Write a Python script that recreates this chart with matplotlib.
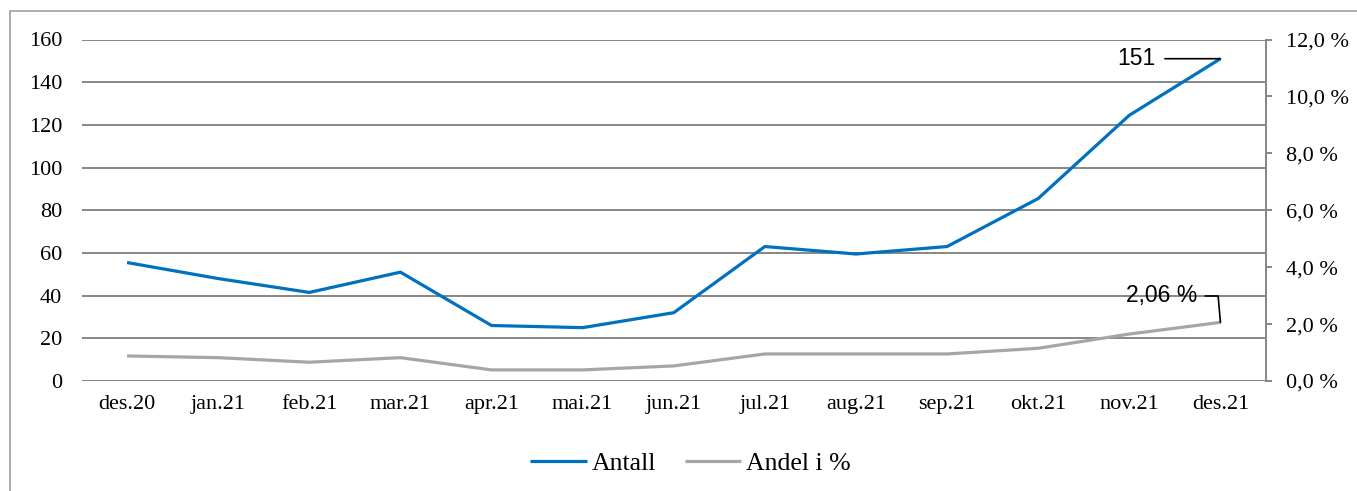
import matplotlib.pyplot as plt
from matplotlib.patches import Rectangle
from matplotlib.ticker import FuncFormatter

# data
months = ["des.20", "jan.21", "feb.21", "mar.21", "apr.21", "mai.21", "jun.21",
          "jul.21", "aug.21", "sep.21", "okt.21", "nov.21", "des.21"]
antall = [55.5, 48, 41.5, 51, 26, 25, 32, 63, 59.5, 63, 85.5, 124.5, 151]
andel = [0.88, 0.82, 0.66, 0.82, 0.39, 0.39, 0.53, 0.95, 0.95, 0.95, 1.15, 1.65, 2.06]

BLUE = "#0070C0"
GRAY = "#A6A6A6"
GRID = "#868686"
SERIF = "Liberation Serif"

W, H = 1357, 491
fig = plt.figure(figsize=(W / 100, H / 100), dpi=100)

# outer chart border (left/top visible, right/bottom run off the image)
fig.patches.append(Rectangle((10 / W, -1), 2, 2 - 11 / H, transform=fig.transFigure,
                             fill=False, edgecolor="#A0A0A0", linewidth=1.2))

left, right, top, bottom = 81.5, 1266, 39.5, 381
ax = fig.add_axes([left / W, 1 - bottom / H, (right - left) / W, (bottom - top) / H])
ax2 = ax.twinx()

x = list(range(len(months)))
ax.plot(x, antall, color=BLUE, linewidth=2.3, solid_capstyle="butt", zorder=3)
ax2.plot(x, andel, color=GRAY, linewidth=2.3, solid_capstyle="butt", zorder=3)

ax.set_xlim(-0.5, len(months) - 0.5)
ax.set_ylim(0, 160)
ax.set_yticks(range(0, 161, 20))
ax2.set_ylim(0, 12)
ax2.set_yticks(range(0, 13, 2))
ax2.yaxis.set_major_formatter(FuncFormatter(lambda v, p: f"{v:.1f}".replace(".", ",") + " %"))

ax.set_xticks(x)
ax.set_xticklabels(months)
ax.grid(axis="y", color=GRID, linewidth=1.4)
ax.set_axisbelow(True)

for a in (ax, ax2):
    for s in a.spines.values():
        s.set_visible(False)
ax2.spines["right"].set_visible(True)
ax2.spines["right"].set_color(GRID)
ax2.spines["right"].set_linewidth(1.4)

ax.tick_params(axis="y", length=0, pad=14, labelsize=16, labelcolor="black")
ax.tick_params(axis="x", length=0, pad=10, labelsize=16)
ax2.tick_params(axis="y", length=4.5, width=1.4, color=GRID, pad=10, labelsize=16)
for lab in ax.get_xticklabels() + ax.get_yticklabels() + ax2.get_yticklabels():
    lab.set_family(SERIF)

# data labels with leader lines
ax.annotate(f"{antall[-1]:.0f}", xy=(x[-1], antall[-1]), xytext=(-47, 0),
            textcoords="offset points", ha="right", va="center",
            fontsize=16.5, family="Liberation Sans",
            arrowprops=dict(arrowstyle="-", color="black", lw=1.2,
                            shrinkA=5, shrinkB=0))
ax2.annotate(f"{andel[-1]:.2f}".replace(".", ",") + " %", xy=(x[-1], andel[-1]),
             xytext=(-17, 19), textcoords="offset points", ha="right", va="center",
             fontsize=16.5, family="Liberation Sans",
             arrowprops=dict(arrowstyle="-", color="black", lw=1.2,
                             connectionstyle="angle,angleA=0,angleB=95,rad=0",
                             shrinkA=4, shrinkB=0))

handles = [ax.get_lines()[0], ax2.get_lines()[0]]
fig.legend(handles, ["Antall", "Andel i %"], loc="center", bbox_to_anchor=(0.509, 0.057),
           ncol=2, frameon=False, prop={"family": SERIF, "size": 18.5},
           handlelength=2.2, handletextpad=0.2, columnspacing=1.1)

fig.savefig("out.png", dpi=100)
